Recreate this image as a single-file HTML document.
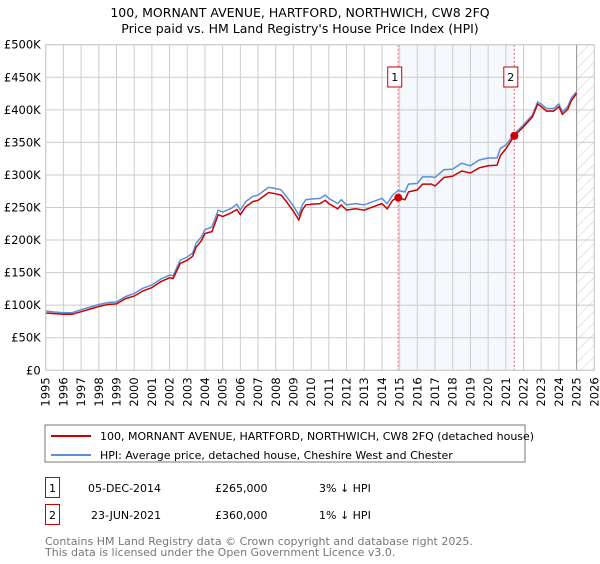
<!DOCTYPE html>
<html><head><meta charset="utf-8"><style>
body{margin:0;background:#fff;width:600px;height:560px;overflow:hidden;font-family:"DejaVu Sans","Liberation Sans",sans-serif}
svg text{font-family:"DejaVu Sans","Liberation Sans",sans-serif}
</style></head><body>
<svg id="c" width="600" height="560" viewBox="0 0 600 560" xmlns="http://www.w3.org/2000/svg">
<defs><pattern id="hatch" width="8" height="8" patternUnits="userSpaceOnUse" patternTransform="rotate(45)"><line x1="0" y1="0" x2="0" y2="8" stroke="#ccc" stroke-width="1"/></pattern></defs>
<text x="300" y="17" text-anchor="middle" font-size="12.5">100, MORNANT AVENUE, HARTFORD, NORTHWICH, CW8 2FQ</text>
<text x="300" y="33" text-anchor="middle" font-size="12.5">Price paid vs. HM Land Registry's House Price Index (HPI)</text>
<g id="plot"></g>
<rect x="45" y="425" width="480" height="37" fill="#fff" stroke="#777"/>
<line x1="51" y1="436" x2="91" y2="436" stroke="#cc0000" stroke-width="2"/>
<text x="100" y="440" font-size="11">100, MORNANT AVENUE, HARTFORD, NORTHWICH, CW8 2FQ (detached house)</text>
<line x1="51" y1="455" x2="91" y2="455" stroke="#5b8fd6" stroke-width="2"/>
<text x="100" y="459" font-size="11">HPI: Average price, detached house, Cheshire West and Chester</text>
<rect x="45.5" y="477.5" width="14" height="20" fill="#fff" stroke="#cc0000"/>
<text x="52.5" y="492" font-size="11" text-anchor="middle">1</text>
<text x="88" y="492" font-size="11">05-DEC-2014</text>
<text x="215" y="492" font-size="11">£265,000</text>
<text x="319" y="492" font-size="11">3% ↓ HPI</text>
<rect x="45.5" y="504.5" width="14" height="20" fill="#fff" stroke="#cc0000"/>
<text x="52.5" y="519" font-size="11" text-anchor="middle">2</text>
<text x="91" y="519" font-size="11">23-JUN-2021</text>
<text x="215" y="519" font-size="11">£360,000</text>
<text x="319" y="519" font-size="11">1% ↓ HPI</text>
<text x="45" y="545" font-size="11" fill="#777">Contains HM Land Registry data © Crown copyright and database right 2025.</text>
<text x="45" y="556" font-size="11" fill="#777">This data is licensed under the Open Government Licence v3.0.</text>
</svg>
<script>
const years=[1995,1995.5,1996,1996.5,1997,1997.5,1998,1998.5,1999,1999.5,2000,2000.5,2001,2001.5,2002,2002.2,2002.6,2003,2003.3,2003.5,2003.8,2004,2004.4,2004.75,2005,2005.5,2005.8,2006,2006.3,2006.7,2007,2007.4,2007.6,2008,2008.3,2008.6,2009,2009.3,2009.5,2009.7,2010,2010.5,2010.8,2011,2011.5,2011.7,2012,2012.5,2013,2013.5,2014,2014.3,2014.6,2014.92,2015.3,2015.5,2016,2016.3,2016.8,2017,2017.5,2018,2018.5,2019,2019.5,2020,2020.5,2020.7,2021,2021.48,2022,2022.5,2022.8,2023,2023.3,2023.7,2024,2024.2,2024.5,2024.7,2025];
const hpi=[91,89.6,88.5,88.5,93,97,101,104,105,113,118,126,131,140,146,145,169,174,180,195,205,216,220,246,243,249,255,246,259,267,269,277,281,279,277,267,252,238,254,262,263,264,269,264,256,262,254,256,254,259,264,256,269,276,274,286,287,297,297,296,308,309,318,314,323,326,326,341,346,363,377,392,412,409,402,402,409,397,405,418,428];
const price=[88,87,86,86,90,94,98,101,102,110,114,122,127,136,142,141,164,169,175,189,199,210,213,239,236,242,247,239,251,259,261,269,273,271,269,259,244,231,246,254,255,256,261,256,248,254,246,248,246,251,256,248,261,265,262,274,277,286,286,283,296,298,306,303,311,314,315,330,340,360,374,389,409,405,398,398,405,393,401,414,425];
const saleYears=[2014.92,2021.48];
const salePrices=[265,360];
const yTicks=[0,50,100,150,200,250,300,350,400,450,500];
const yTickLabels=["£0","£50K","£100K","£150K","£200K","£250K","£300K","£350K","£400K","£450K","£500K"];
const xTicks=[1995,1996,1997,1998,1999,2000,2001,2002,2003,2004,2005,2006,2007,2008,2009,2010,2011,2012,2013,2014,2015,2016,2017,2018,2019,2020,2021,2022,2023,2024,2025,2026];

const L=45.7,R=594.3,T=44.7,B=370.3;
const sx=y=>L+(y-1995)/(2026-1995)*(R-L);
const sy=v=>B-v/500*(B-T);
const NS="http://www.w3.org/2000/svg";
const g=document.getElementById('plot');
function mk(t,a){const e=document.createElementNS(NS,t);for(const k in a)e.setAttribute(k,a[k]);g.appendChild(e);return e;}

let sh=mk('rect',{x:sx(saleYears[0]),y:T,width:sx(saleYears[1])-sx(saleYears[0]),height:B-T,fill:'#eef3fc',opacity:0.6});


let ht=mk('rect',{x:sx(2025),y:T,width:R-sx(2025),height:B-T,fill:'url(#hatch)'});


xTicks.forEach(t=>{
  const x=sx(t);
  let l=mk('line',{x1:x,x2:x,y1:T,y2:B,stroke:'#ccc','stroke-width':1});
  
  
  let tx=mk('text',{x:0,y:0,'font-size':11.5,'text-anchor':'end',transform:`translate(${x+4},${B+7}) rotate(-90)`});
  tx.textContent=t;
  
  
});
yTicks.forEach((t,i)=>{
  const y=sy(t);
  let l=mk('line',{x1:L,x2:R,y1:y,y2:y,stroke:'#ccc','stroke-width':1});
  
  
  let tx=mk('text',{x:L-5,y:y+4,'font-size':11.5,'text-anchor':'end'});
  tx.textContent=yTickLabels[i];
  
  
});
let nl=mk('line',{x1:sx(2025),x2:sx(2025),y1:T,y2:B,stroke:'#999','stroke-width':1});


saleYears.forEach((s,i)=>{
  const x=sx(s);
  let l=mk('line',{x1:x,x2:x,y1:T,y2:B,stroke:'#e06666','stroke-width':1,'stroke-dasharray':'2,2'});
  
  
  let b=mk('rect',{x:x-10.5,y:67,width:14,height:20,fill:'#fff',stroke:'#cc0000'});
  
  
  let t=mk('text',{x:x-3.5,y:81,'font-size':11,'text-anchor':'middle'});
  t.textContent=String(i+1);
  
  
});
function path(vals){return vals.map((v,i)=>(i?'L':'M')+sx(years[i]).toFixed(1)+','+sy(v).toFixed(1)).join('');}
let hp=mk('path',{d:path(hpi),fill:'none',stroke:'#5b8fd6','stroke-width':1.5});


let pp=mk('path',{d:path(price),fill:'none',stroke:'#cc0000','stroke-width':1.5});


saleYears.forEach((s,i)=>{
  let c=mk('circle',{cx:sx(s),cy:sy(salePrices[i]),r:4,fill:'#cc0000'});
  
  
});
let fr=mk('rect',{x:L,y:T,width:R-L,height:B-T,fill:'none',stroke:'#ccc'});


</script>
</body></html>
